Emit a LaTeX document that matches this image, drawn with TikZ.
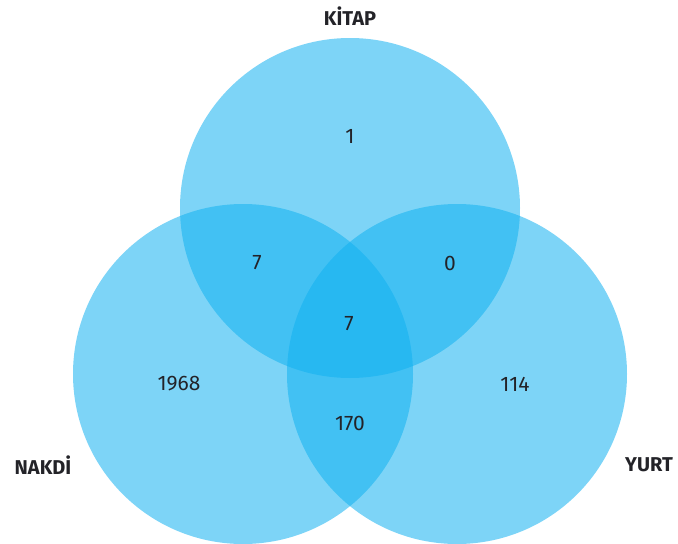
\documentclass[tikz,border=0pt]{standalone}
\usepackage{fontspec}
\setmainfont{Fira Sans}
\usetikzlibrary{positioning}
\definecolor{vennblue}{RGB}{18,177,240}
\definecolor{vennink}{RGB}{35,35,40}

\begin{document}
\begin{tikzpicture}[x=1pt,y=-1pt,line cap=round,line join=round]
\tikzset{
    setfill/.style={fill=vennblue, fill opacity=0.55},
    count/.style={text=vennink, font=\fontsize{21}{24}\selectfont, inner sep=0pt},
    setname/.style={text=vennink, font=\fontsize{20}{23}\selectfont\bfseries, inner sep=0pt}
}
\def\vennradius{170}

\useasboundingbox (0,0) rectangle (678,544);

% circles
\coordinate (kitap) at (350,208);
\coordinate (nakdi) at (243,374);
\coordinate (yurt) at (457,374);
\foreach \c in {kitap,nakdi,yurt} {
    \fill[setfill] (\c) circle (\vennradius);
}

% set names
\node[setname] (lkitap) at (350,16) {KİTAP};
\node[setname] (lnakdi) at (43,465) {NAKDİ};
\node[setname] (lyurt) at (649,465) {YURT};

% counts
\node[count] (nk) at (350,136) {1};
\node[count] (nkn) at (257,263) {7};
\node[count] (nky) at (450,263) {0};
\node[count] (nall) at (349,324) {7};
\node[count] (nn) at (179,384) {1968};
\node[count] (nny) at (350,423) {170};
\node[count] (ny) at (515,384) {114};

\end{tikzpicture}
\end{document}
